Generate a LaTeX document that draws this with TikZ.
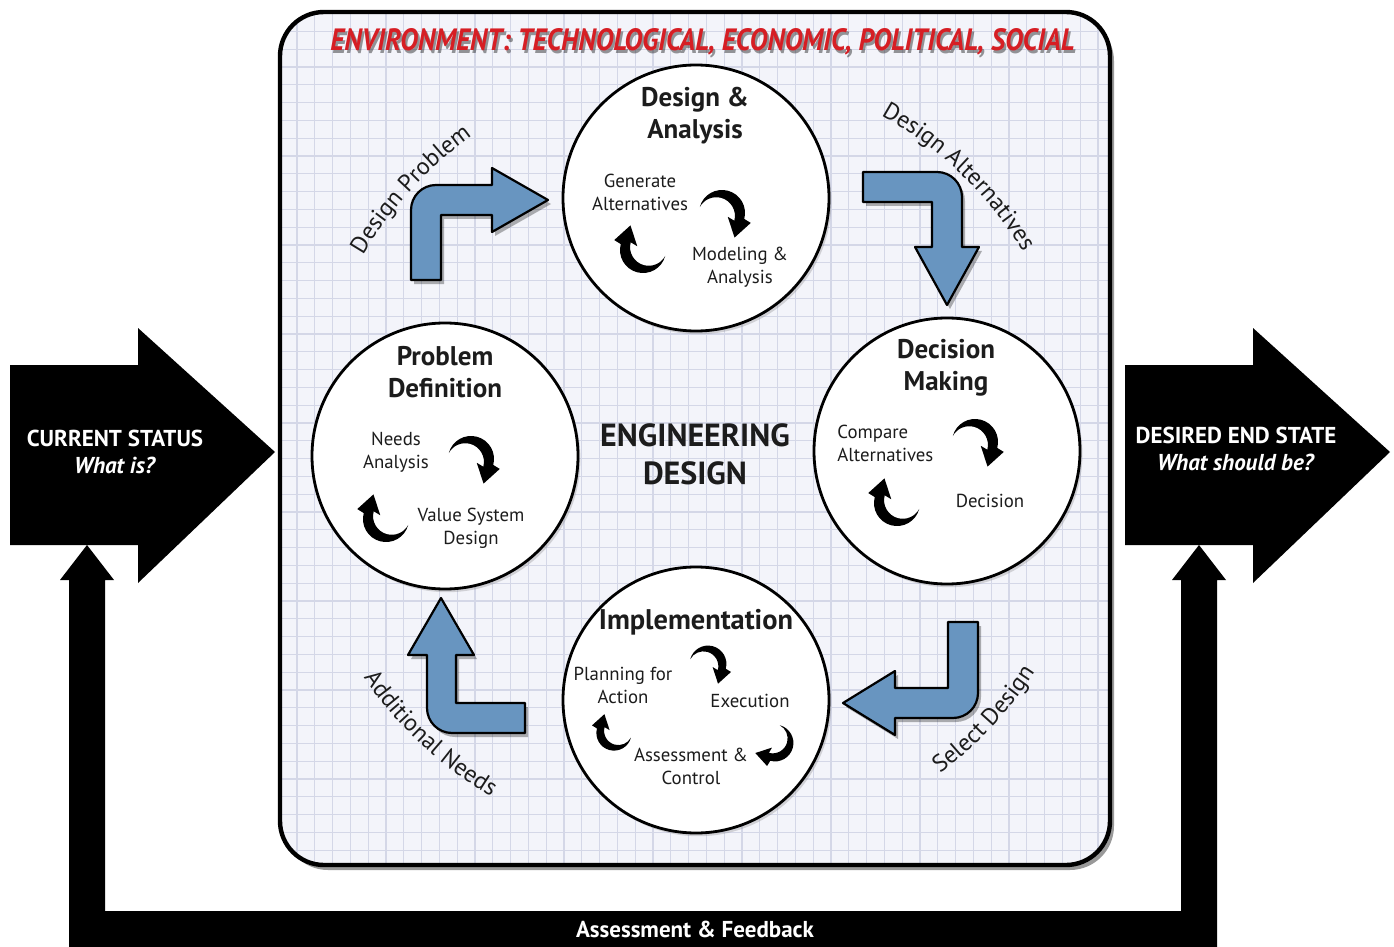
\documentclass[tikz,border=0pt]{standalone}
\usepackage{graphicx}
\usepackage{fontspec}
\setmainfont{PT Sans}
\usetikzlibrary{decorations.text,shadows}
\definecolor{gridbg}{RGB}{243,244,250}
\definecolor{gridline}{RGB}{212,215,231}
\definecolor{bluearrow}{RGB}{104,149,192}
\definecolor{titlered}{RGB}{214,30,36}
\definecolor{txt}{RGB}{28,28,28}
\tikzset{
  circ/.style={circle, draw=black, line width=1.4pt, fill=white, minimum size=133pt, inner sep=0pt,
    drop shadow={shadow xshift=1.2pt, shadow yshift=-1.6pt, opacity=0.3}},
  ctitle/.style={font=\bfseries\fontsize{13.5}{16}\selectfont, text=txt, align=center, inner sep=0pt},
  clabel/.style={font=\fontsize{9.4}{11.5}\selectfont, text=txt, align=center, inner sep=0pt},
  wlabel/.style={font=\bfseries\fontsize{11.5}{13.5}\selectfont, text=white, align=center, inner sep=0pt},
  barrow/.style={fill=bluearrow, draw=black, line width=1.1pt, line join=round,
    preaction={fill=black, opacity=0.3, transform canvas={xshift=1.5pt,yshift=-2pt}}},
  curl/.pic={
    \fill[black] (-19.3,-5.2) arc[start angle=195,end angle=375,radius=20]
      -- (25.0,8.63) -- (10.9,21.4) -- (5.0,3.27) -- (10.7,6.7)
      arc[start angle=15,end angle=-151.7,radius=16.24] -- cycle;
  }
}
\begin{document}
\begin{tikzpicture}[x=0.5pt,y=-0.5pt]
\useasboundingbox (0,0) rectangle (1394,947);
\fill[white] (0,0) rectangle (1394,947);

% feedback loop
\fill[black] (69,947) -- (69,580) -- (60,580) -- (87,545) -- (114,580) -- (105,580) -- (105,911)
  -- (1181,911) -- (1181,580) -- (1172,580) -- (1199,545) -- (1226,580) -- (1217,580) -- (1217,947) -- cycle;
\node[font=\bfseries\fontsize{11.5}{13}\selectfont, text=white] (fb) at (695,929) {Assessment \& Feedback};

% big arrows
\fill[black] (10,365) -- (138,365) -- (138,328) -- (275,452) -- (138,583) -- (138,545) -- (10,545) -- cycle;
\fill[black] (1125,365) -- (1253,365) -- (1253,328) -- (1390,452) -- (1253,583) -- (1253,545) -- (1125,545) -- cycle;
\node[wlabel] (cur) at (115,452) {CURRENT STATUS\\\textit{What is?}};
\node[wlabel] (des) at (1236,449) {DESIRED END STATE\\\textit{What should be?}};

% main box
\fill[black!40, rounded corners=22pt] (284,17) rectangle (1114,870);
\fill[gridbg, rounded corners=22pt] (280,12) rectangle (1110,865);
\begin{scope}
\clip[rounded corners=22pt] (280,12) rectangle (1110,865);
\foreach \i in {-1,...,45} \draw[gridline, line width=0.6pt] ({297+\i*17.8},12) -- ({297+\i*17.8},865);
\foreach \j in {-3,...,44} \draw[gridline, line width=0.6pt] (280,{67+\j*17.8}) -- (1110,{67+\j*17.8});
\end{scope}
\draw[black, line width=2.2pt, rounded corners=22pt] (280,12) rectangle (1110,865);

% title
\node[text=black, opacity=0.4] (titlesh) at (704.5,45) {\resizebox{372pt}{11pt}{\bfseries\itshape ENVIRONMENT: TECHNOLOGICAL, ECONOMIC, POLITICAL, SOCIAL}};
\node[text=titlered] (title) at (702.5,42) {\resizebox{372pt}{11pt}{\bfseries\itshape ENVIRONMENT: TECHNOLOGICAL, ECONOMIC, POLITICAL, SOCIAL}};

% circles
\node[circ] (da) at (696,198) {};
\node[circ] (dm) at (947,451) {};
\node[circ] (pd) at (445,456) {};
\node[circ] (im) at (696,700) {};

% circle texts
\node[ctitle] (daT) at (695,116) {Design \&\\Analysis};
\node[clabel] (daA) at (640,192) {Generate\\Alternatives};
\node[clabel] (daB) at (740,267) {Modeling \&\\Analysis};
\pic[scale=1.15] at (722,213) {curl};
\pic[scale=1.15, rotate=180] at (643,250) {curl};

\node[ctitle] (dmT) at (946,368) {Decision\\Making};
\node[clabel, align=left, anchor=west] (dmA) at (837,443) {Compare\\Alternatives};
\node[clabel] (dmB) at (990,501) {Decision};
\pic[scale=1.15] at (975,442) {curl};
\pic[scale=1.15, rotate=180] at (897,503) {curl};

\node[ctitle] (pdT) at (445,372) {Problem\\Definition};
\node[clabel] (pdA) at (396,452) {Needs\\Analysis};
\node[clabel] (pdB) at (471,528) {Value System\\Design};
\pic[scale=1.15] at (471,459) {curl};
\pic[scale=1.15, rotate=180] at (386,519) {curl};

\node[ctitle, font=\bfseries\fontsize{14.2}{16}\selectfont] (imT) at (696,622) {Implementation};
\node[clabel] (imA) at (623,685) {Planning for\\Action};
\node[clabel] (imB) at (750,701) {Execution};
\node[clabel] (imC) at (691,766) {Assessment \&\\Control};
\pic[scale=0.92] at (708,664) {curl};
\pic[scale=0.92, rotate=-90] at (775,743) {curl};
\pic[scale=0.88, rotate=180] at (614,733) {curl};

% centre label
\node[font=\bfseries\fontsize{16}{19}\selectfont, text=txt, align=center] (eng) at (695,454) {ENGINEERING\\DESIGN};

% blue arrows
\draw[barrow] (411,280) -- (411,210) arc[start angle=180,end angle=270,radius=25] -- (492,185)
  -- (492,168) -- (548,200) -- (492,232) -- (492,215) -- (441,215) -- (441,280) -- cycle;
\draw[barrow] (863,172) -- (937,172) arc[start angle=270,end angle=360,radius=25] -- (962,247)
  -- (979,247) -- (947,305) -- (915,247) -- (932,247) -- (932,202) -- (863,202) -- cycle;
\draw[barrow] (948,622) -- (978,622) -- (978,693) arc[start angle=0,end angle=90,radius=25] -- (895,718)
  -- (895,735) -- (843,703) -- (895,671) -- (895,688) -- (948,688) -- cycle;
\draw[barrow] (441,598) -- (474,655) -- (456,655) -- (456,703) -- (525,703) -- (525,733) -- (452,733)
  arc[start angle=90,end angle=180,radius=25] -- (427,655) -- (408,655) -- cycle;

% arc labels
\path[decorate, decoration={text along path, text align=center,
  text={|\color{txt}\fontsize{12}{14}\selectfont|Design Problem}}]
  (695,450) ++(198:385) arc[start angle=198,end angle=247,radius=385];
\path[decorate, decoration={text along path, text align=center,
  text={|\color{txt}\fontsize{12}{14}\selectfont|Design Alternatives}}]
  (695,450) ++(289:383) arc[start angle=289,end angle=339,radius=383];
\path[decorate, decoration={text along path, text align=center,
  text={|\color{txt}\fontsize{12}{14}\selectfont|Select Design}}]
  (695,450) ++(64:406) arc[start angle=64,end angle=22,radius=406];
\path[decorate, decoration={text along path, text align=center,
  text={|\color{txt}\fontsize{12}{14}\selectfont|Additional Needs}}]
  (695,450) ++(156:402) arc[start angle=156,end angle=110,radius=402];
\end{tikzpicture}
\end{document}
